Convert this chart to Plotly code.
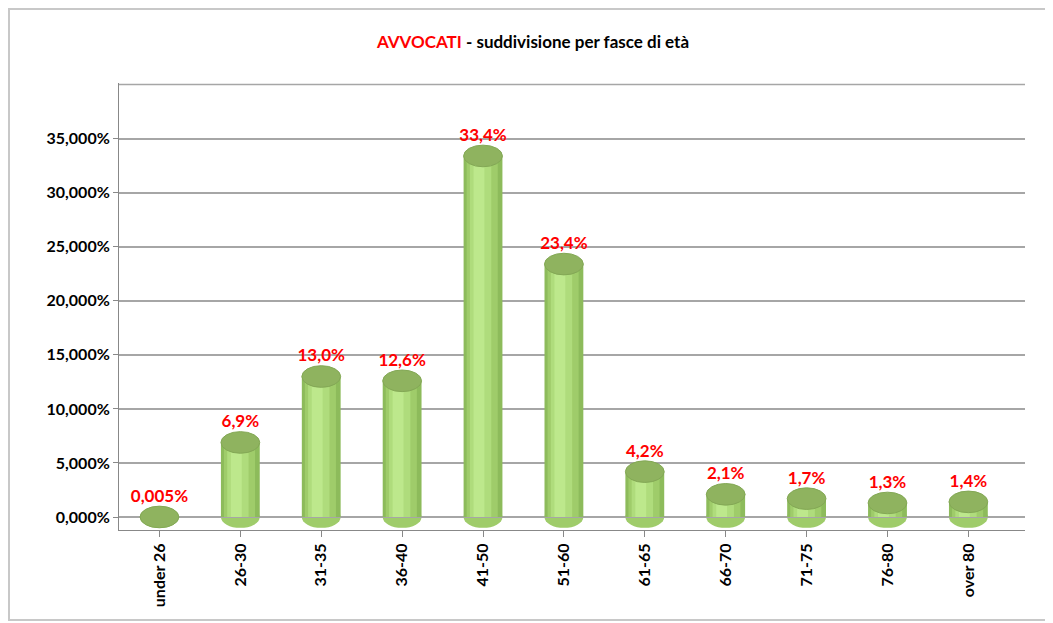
import plotly.graph_objects as go

categories = ["under 26", "26-30", "31-35", "36-40", "41-50", "51-60",
              "61-65", "66-70", "71-75", "76-80", "over 80"]
values = [0.005, 6.9, 13.0, 12.6, 33.4, 23.4, 4.2, 2.1, 1.7, 1.3, 1.4]
value_labels = ["0,005%", "6,9%", "13,0%", "12,6%", "33,4%", "23,4%",
                "4,2%", "2,1%", "1,7%", "1,3%", "1,4%"]
y_ticks = [0, 5, 10, 15, 20, 25, 30, 35]
y_tick_labels = ["0,000%", "5,000%", "10,000%", "15,000%", "20,000%",
                 "25,000%", "30,000%", "35,000%"]
y_top = 40

FONT = "Lato"
BAR_W = 0.48
CAP_H = 1.0  # half height of the cylinder cap, in axis units

# the page body has an 8px margin: lay the figure out in shifted pixels
OFF = 8
W, H = 1053 - OFF, 623 - OFF
L, R, T, B = 119 - OFF, 1025 - OFF, 83 - OFF, 530 - OFF

xs = list(range(len(categories)))

fig = go.Figure()

# cylinder body built from overlaid bars of decreasing width (shading)
layers = [
    (BAR_W, 0.0, "#8dbb5b"),
    (BAR_W * 0.80, -0.01, "#9fcc6a"),
    (BAR_W * 0.55, -0.03, "#afdc7c"),
    (BAR_W * 0.28, -0.05, "#bde88c"),
]
for w, shift, col in layers:
    fig.add_trace(go.Bar(
        x=xs, y=values, width=w, offset=-w / 2 + shift,
        marker=dict(color=col, line=dict(width=0)),
        hoverinfo="skip", showlegend=False,
    ))

# data labels
fig.add_trace(go.Scatter(
    x=xs, y=[v + CAP_H for v in values], mode="text",
    text=value_labels, textposition="top center",
    textfont=dict(family=FONT, size=17, color="#ff0000", weight="bold"),
    hoverinfo="skip", showlegend=False, cliponaxis=False,
))

shapes = []
for x, v in zip(xs, values):
    shapes.append(dict(type="circle", xref="x", yref="y", layer="below",
                       x0=x - BAR_W / 2, x1=x + BAR_W / 2,
                       y0=-CAP_H, y1=CAP_H,
                       fillcolor="#9fcc6a", line=dict(width=0)))
    shapes.append(dict(type="circle", xref="x", yref="y", layer="above",
                       x0=x - BAR_W / 2, x1=x + BAR_W / 2,
                       y0=v - CAP_H, y1=v + CAP_H,
                       fillcolor="#8fb35f", line=dict(color="#83a855", width=1)))

# top edge of the back wall
shapes.append(dict(type="line", xref="paper", yref="y", layer="below",
                   x0=0, x1=1, y0=y_top, y1=y_top,
                   line=dict(color="#a6a6a6", width=1.5)))

# outer chart frame
fx0, fx1, fy0, fy1 = 1, 1043, 1, 612
shapes.append(dict(type="rect", xref="paper", yref="paper", layer="below",
                   x0=(fx0 - L) / (R - L), x1=(fx1 - L) / (R - L),
                   y0=(B - fy1) / (B - T), y1=(B - fy0) / (B - T),
                   line=dict(color="#c8c8c8", width=2), fillcolor="rgba(0,0,0,0)"))

fig.update_layout(
    width=W, height=H,
    margin=dict(l=L, r=W - R, t=T, b=H - B, autoexpand=False),
    paper_bgcolor="white", plot_bgcolor="white",
    barmode="overlay",
    shapes=shapes,
    title=dict(
        text="<span style='color:#ff0000'>AVVOCATI</span> - suddivisione per fasce di età",
        x=(533 - OFF - L) / (R - L), xref="paper", xanchor="center",
        y=1 - (42 - OFF) / H, yref="container", yanchor="middle",
        font=dict(family=FONT, size=17, color="#000000", weight="bold"),
    ),
    xaxis=dict(
        tickmode="array", tickvals=xs, ticktext=categories,
        range=[-0.5, len(categories) - 0.3],
        tickangle=-90, tickson="boundaries",
        ticks="outside", ticklen=6, tickcolor="#888888",
        showline=True, linecolor="#888888", linewidth=1,
        showgrid=False, zeroline=False,
        tickfont=dict(family=FONT, size=16, color="#000000", weight="bold"),
    ),
    yaxis=dict(
        range=[-1.2, y_top + 0.15],
        tickmode="array", tickvals=y_ticks, ticktext=y_tick_labels,
        ticks="outside", ticklen=5, tickcolor="#888888",
        showline=True, linecolor="#888888", linewidth=1,
        showgrid=True, gridcolor="#a6a6a6", gridwidth=1.5,
        zeroline=False,
        tickfont=dict(family=FONT, size=16, color="#000000", weight="bold"),
    ),
)

fig.write_html("out.html")
